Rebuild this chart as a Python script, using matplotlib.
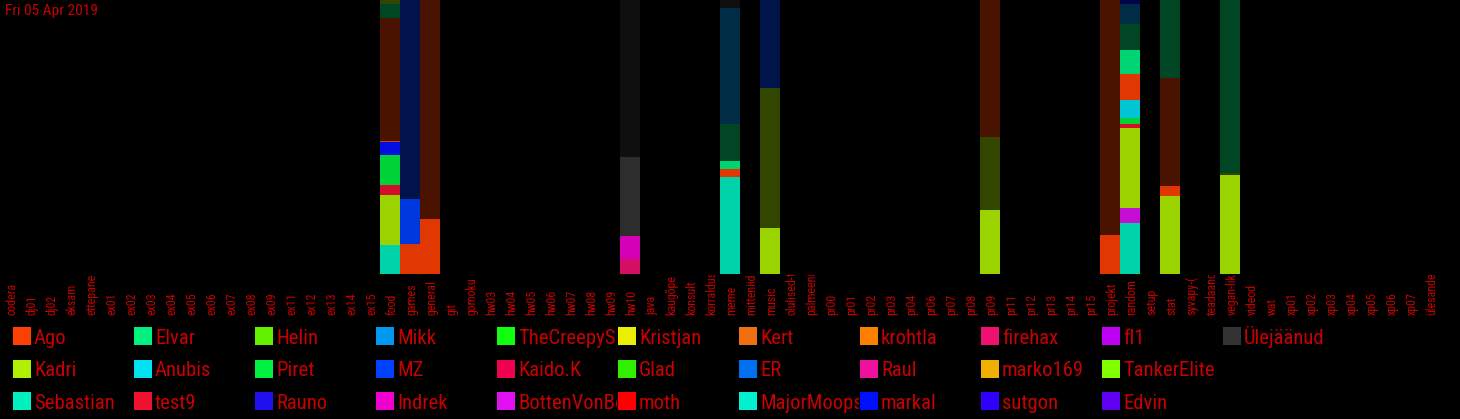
import matplotlib
matplotlib.use("Agg")
import matplotlib.pyplot as plt
from matplotlib import font_manager as fm
from matplotlib.patches import Rectangle
from matplotlib.transforms import Bbox, TransformedBbox
from matplotlib.colors import to_rgb

channels = ["codera", "dj01", "dj02", "eksam", "ettepanek",
            "ex01", "ex02", "ex03", "ex04", "ex05", "ex06", "ex07", "ex08", "ex09",
            "ex11", "ex12", "ex13", "ex14", "ex15",
            "food", "games", "general", "git", "gomoku",
            "hw03", "hw04", "hw05", "hw06", "hw07", "hw08", "hw09", "hw10",
            "java", "kaugõpe", "konsult", "korraldus", "meme", "mitteniidi", "music",
            "olulised-t", "palmeeni-",
            "pr00", "pr01", "pr02", "pr03", "pr04", "pr06", "pr07", "pr08", "pr09",
            "pr11", "pr12", "pr13", "pr14", "pr15",
            "projekt", "random", "setup", "stat", "syvapy-(", "teadaand", "vegan-liki",
            "videod", "wat", "xp01", "xp02", "xp03", "xp04", "xp05", "xp06", "xp07",
            "ülesanded"]

users = ["Ago", "Kadri", "Sebastian", "Elvar", "Anubis", "test9", "Helin", "Piret", "Rauno",
         "Mikk", "MZ", "Indrek", "TheCreepySh", "Kaido.K", "BottenVonBot", "Kristjan", "Glad",
         "moth", "Kert", "ER", "MajorMoopsy", "krohtla", "Raul", "markal", "firehax",
         "marko169", "sutgon", "fl1", "TankerElite", "Edvin", "Ülejäänud"]
user_colors = ["#ff4000", "#b0f000", "#00f0c0", "#00f080", "#00e0f0", "#f01030", "#60f000",
               "#00f040", "#2010f0", "#0098f0", "#0040ff", "#f000d0", "#10ff10", "#f00050",
               "#e010f0", "#e8f000", "#30f000", "#ff0000", "#f07010", "#0070f0", "#00f0d0",
               "#ff8000", "#f010a0", "#0010ff", "#f01070", "#f0b000", "#3000ff", "#c000f0",
               "#80ff00", "#6000f0", "#333333"]

# segments bottom -> top; "~" marks the dark (older) share of a user
food_who = ["Sebastian", "Kadri", "test9", "Piret", "markal", "Ago", "~Ago", "~Elvar", "~Kadri"]
food_n = [29, 49, 10, 30, 13, 1, 121, 14, 4]
games_who = ["Ago", "MZ", "~MZ"]
games_n = [30, 45, 199]
general_who = ["Ago", "~Ago"]
general_n = [55, 219]
hw10_who = ["firehax", "Indrek", "Ülejäänud", "~Ülejäänud"]
hw10_n = [15, 23, 79, 156]
meme_who = ["Sebastian", "Ago", "Elvar", "~Elvar", "~Mikk", "~Ülejäänud"]
meme_n = [97, 8, 8, 36, 116, 8]
music_who = ["Kadri", "~Kadri", "~MZ"]
music_n = [46, 140, 88]
pr09_who = ["Kadri", "~Kadri", "~Ago"]
pr09_n = [64, 73, 137]
projekt_who = ["Ago", "~Ago"]
projekt_n = [39, 236]
random_who = ["Sebastian", "BottenVonBot", "Kadri", "test9", "Piret", "Anubis", "Ago",
              "Elvar", "~Elvar", "~Mikk", "~markal"]
random_n = [50, 15, 78, 4, 6, 17, 26, 23, 26, 19, 4]
stat_who = ["Kadri", "Ago", "~Ago", "~Elvar"]
stat_n = [78, 10, 107, 78]
vegan_who = ["Kadri", "~Kadri", "~Elvar"]
vegan_n = [99, 2, 173]

bars = [("food", food_who, food_n), ("games", games_who, games_n),
        ("general", general_who, general_n), ("hw10", hw10_who, hw10_n),
        ("meme", meme_who, meme_n), ("music", music_who, music_n),
        ("pr09", pr09_who, pr09_n), ("projekt", projekt_who, projekt_n),
        ("random", random_who, random_n), ("stat", stat_who, stat_n),
        ("vegan-liki", vegan_who, vegan_n)]

title = "Fri 05 Apr 2019"
RED = "#c80000"
W, H = 1460, 419


def pick_font():
    # the original uses a narrow display face; take the narrowest one we have
    tries = [("Roboto Condensed", "normal"), ("Roboto", "condensed"),
             ("Open Sans Condensed", "normal"), ("Open Sans", "condensed"),
             ("Liberation Sans Narrow", "normal"), ("DejaVu Sans", "condensed")]
    for fam, st in tries:
        try:
            path = fm.findfont(fm.FontProperties(family=fam, stretch=st),
                               fallback_to_default=False)
        except ValueError:
            continue
        low = path.lower()
        if st == "condensed" and "condensed" not in low and "narrow" not in low:
            continue
        return fam, st
    return "DejaVu Sans", "normal"


FAM, STRETCH = pick_font()
plt.rcParams['font.family'] = [FAM, 'DejaVu Sans']
plt.rcParams['font.stretch'] = STRETCH


def seg_color(who):
    base = to_rgb(user_colors[users.index(who.lstrip("~"))])
    k = 0.29 if who.startswith("~") else 0.88
    return tuple(c * k for c in base)


fig = plt.figure(figsize=(W / 100, H / 100), dpi=100, facecolor="black")
renderer = fig.canvas.get_renderer()


def fit_size(s, target_px, max_size):
    t = fig.text(0, 0, s, fontsize=10)
    w = t.get_window_extent(renderer).width
    t.remove()
    return min(max_size, 10 * target_px / w)


ax = fig.add_axes([0, 145 / H, 1, 274 / H])
ax.set_facecolor("black")
ax.set_xlim(0, 73)
ax.set_ylim(0, 100)
ax.axis("off")

for name, who, n in bars:
    i = channels.index(name)
    total = sum(n)
    bottom = 0
    for w, v in zip(who, n):
        pct = v / total * 100
        ax.bar(i, pct, bottom=bottom, width=1.0, align="edge", color=seg_color(w), linewidth=0)
        bottom += pct

# channel labels, start below the axis, read upward, clipped at the axis
tick_fs = fit_size("codera", 32, 9.5)
clip = TransformedBbox(Bbox.from_extents(0, 0, 1, 144 / H), fig.transFigure)
for i, ch in enumerate(channels):
    t = ax.text(i + 0.6, -41 / 274, ch, rotation=90, ha="center", va="bottom",
                color=RED, fontsize=tick_fs, transform=ax.get_xaxis_transform())
    t.set_clip_on(True)
    t.set_clip_box(clip)

fig.text(5 / W, 1 - 4 / H, title, color=RED, fontsize=fit_size(title, 92, 13),
         ha="left", va="top")

# legend, 11 columns x 3 rows, filled column by column
leg_fs = fit_size("Sebastian", 80, 16)
for k, (u, c) in enumerate(zip(users, user_colors)):
    col, row = k // 3, k % 3
    x0 = 13 + 121 * col
    y0 = 327 + 32.5 * row
    fig.add_artist(Rectangle((x0 / W, 1 - (y0 + 18) / H), 18 / W, 18 / H,
                             transform=fig.transFigure, color=c, linewidth=0))
    t = fig.text((x0 + 21) / W, 1 - (y0 + 17) / H, u, color=RED, fontsize=leg_fs,
                 ha="left", va="baseline")
    t.set_clip_on(True)
    t.set_clip_box(TransformedBbox(Bbox.from_extents((x0 + 20) / W, 0, (x0 + 120) / W, 1),
                                   fig.transFigure))

fig.savefig("out.png", dpi=100, facecolor="black")
